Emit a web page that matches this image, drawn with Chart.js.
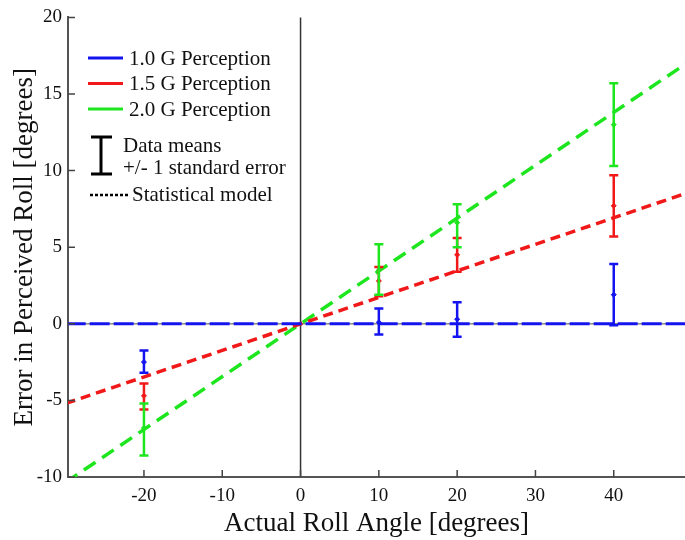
<!DOCTYPE html>
<html>
<head>
<meta charset="utf-8">
<script src="https://cdn.jsdelivr.net/npm/chart.js@4.4.1/dist/chart.umd.min.js"></script>
<style>
  html, body { margin: 0; padding: 0; background: #fff; overflow: hidden; }
  /* a few px wider than the window: the axis runs off the right edge like the reference */
  #wrap { width: 690px; height: 540px; }
</style>
</head>
<body>
<div id="wrap"><canvas id="rollChart"></canvas></div>
<script>
// values
const rollAngles = [-20, 10, 20, 40];

const mean10 = [-2.5, 0.1, 0.3, 1.9];
const lo10 = [-3.2, -0.7, -0.85, -0.1];
const hi10 = [-1.75, 1.0, 1.4, 3.9];

const mean15 = [-4.7, 2.8, 4.5, 7.7];
const lo15 = [-5.6, 1.8, 3.4, 5.7];
const hi15 = [-3.9, 3.7, 5.6, 9.7];

const mean20 = [-6.8, 3.5, 6.6, 13.0];
const lo20 = [-8.6, 1.9, 5.0, 10.3];
const hi20 = [-5.2, 5.2, 7.8, 15.7];

const modelX = [-30, 50];
const model10 = [0, 0];
const model15 = [-5.2, 8.65];
const model20 = [-10.35, 17.25];

const xTicks = [-20, -10, 0, 10, 20, 30, 40];
const yTicks = [-10, -5, 0, 5, 10, 15, 20];

const seriesLabels = ['1.0 G Perception', '1.5 G Perception', '2.0 G Perception'];
const seriesColors = ['#1414f0', '#f01818', '#1ee61e'];

const FONT = '"Liberation Serif", "Times New Roman", serif';

const pts = (xs, ys) => xs.map((x, i) => ({ x, y: ys[i] }));

const errorSets = [
  { mean: mean10, lo: lo10, hi: hi10, color: seriesColors[0] },
  { mean: mean15, lo: lo15, hi: hi15, color: seriesColors[1] },
  { mean: mean20, lo: lo20, hi: hi20, color: seriesColors[2] },
];

const axesExtras = {
  id: 'axesExtras',
  beforeDatasetsDraw(chart) {
    const { ctx, chartArea: a, scales: { x, y } } = chart;
    ctx.save();
    // zero lines
    ctx.lineWidth = 1.5;
    ctx.strokeStyle = '#333';
    const x0 = x.getPixelForValue(0);
    ctx.beginPath();
    ctx.moveTo(x0, a.top);
    ctx.lineTo(x0, a.bottom);
    ctx.stroke();
    ctx.strokeStyle = '#888';
    const y0 = y.getPixelForValue(0);
    ctx.beginPath();
    ctx.moveTo(a.left, y0);
    ctx.lineTo(a.right, y0);
    ctx.stroke();
    ctx.restore();
  },
  afterDatasetsDraw(chart) {
    const { ctx, chartArea: a, scales: { x, y } } = chart;
    ctx.save();
    // error bars
    ctx.lineWidth = 2.5;
    errorSets.forEach((s) => {
      ctx.strokeStyle = s.color;
      rollAngles.forEach((ang, i) => {
        const px = x.getPixelForValue(ang);
        const pl = y.getPixelForValue(s.lo[i]);
        const ph = y.getPixelForValue(s.hi[i]);
        ctx.beginPath();
        ctx.moveTo(px, pl); ctx.lineTo(px, ph);
        ctx.moveTo(px - 4.5, pl); ctx.lineTo(px + 4.5, pl);
        ctx.moveTo(px - 4.5, ph); ctx.lineTo(px + 4.5, ph);
        ctx.stroke();
      });
    });
    // inward ticks
    ctx.strokeStyle = '#444';
    ctx.lineWidth = 1.5;
    ctx.beginPath();
    xTicks.forEach((v) => {
      const px = x.getPixelForValue(v);
      ctx.moveTo(px, a.bottom); ctx.lineTo(px, a.bottom - 7);
    });
    yTicks.forEach((v) => {
      const py = y.getPixelForValue(v);
      ctx.moveTo(a.left, py); ctx.lineTo(a.left + 7, py);
    });
    ctx.stroke();
    ctx.restore();
  },
  afterDraw(chart) {
    const { ctx } = chart;
    ctx.save();
    ctx.font = '21px ' + FONT;
    ctx.fillStyle = '#111';
    ctx.textBaseline = 'middle';
    ctx.lineWidth = 3;
    seriesLabels.forEach((lab, i) => {
      const ly = 58 + i * 25.5;
      ctx.strokeStyle = seriesColors[i];
      ctx.beginPath();
      ctx.moveTo(88, ly); ctx.lineTo(123, ly);
      ctx.stroke();
      ctx.fillText(lab, 129, ly + 1);
    });
    // error bar sample
    ctx.strokeStyle = '#000';
    ctx.lineWidth = 3;
    ctx.beginPath();
    ctx.moveTo(101, 137); ctx.lineTo(101, 174);
    ctx.moveTo(91, 137); ctx.lineTo(112, 137);
    ctx.moveTo(91, 174); ctx.lineTo(112, 174);
    ctx.stroke();
    ctx.fillText('Data means', 123, 146);
    ctx.fillText('+/- 1 standard error', 123, 168);
    // model sample
    ctx.lineWidth = 2.5;
    ctx.setLineDash([3, 2]);
    ctx.beginPath();
    ctx.moveTo(90, 195); ctx.lineTo(129, 195);
    ctx.stroke();
    ctx.setLineDash([]);
    ctx.fillText('Statistical model', 132, 195);
    ctx.restore();
  },
};

new Chart(document.getElementById('rollChart'), {
  type: 'scatter',
  data: {
    datasets: [
      {
        label: 'model 2.0', data: pts(modelX, model20), showLine: true,
        borderColor: seriesColors[2], borderWidth: 3.5, borderDash: [14, 8],
        pointRadius: 0, order: 3,
      },
      {
        label: 'model 1.5', data: pts(modelX, model15), showLine: true,
        borderColor: seriesColors[1], borderWidth: 3.5, borderDash: [10, 6],
        pointRadius: 0, order: 2,
      },
      {
        label: 'model 1.0', data: pts(modelX, model10), showLine: true,
        borderColor: seriesColors[0], borderWidth: 3, borderDash: [20, 4],
        pointRadius: 0, order: 1,
      },
      ...errorSets.map((s, k) => ({
        label: seriesLabels[k], data: pts(rollAngles, s.mean),
        pointStyle: 'rectRot', pointRadius: 2.5,
        backgroundColor: s.color, borderColor: s.color, order: 0,
      })),
    ],
  },
  options: {
    responsive: true,
    maintainAspectRatio: false,
    animation: false,
    layout: { padding: { top: 12, right: 0, left: 0, bottom: 0 } },
    plugins: { legend: { display: false }, tooltip: { enabled: false } },
    scales: {
      x: {
        type: 'linear', min: -29.7, max: 49.1,
        afterBuildTicks: (s) => { s.ticks = xTicks.map((v) => ({ value: v })); },
        afterFit: (s) => { s.height = 63; },
        grid: { display: false, drawTicks: false },
        border: { color: '#555', width: 2 },
        ticks: { color: '#111', font: { family: FONT, size: 19 }, padding: 8, maxRotation: 0 },
        title: {
          display: true, text: 'Actual Roll Angle [degrees]', color: '#111',
          font: { family: FONT, size: 27 }, padding: { top: 0, bottom: 0 },
        },
      },
      y: {
        type: 'linear', min: -10, max: 20,
        afterBuildTicks: (s) => { s.ticks = yTicks.map((v) => ({ value: v })); },
        afterFit: (s) => { s.width = 68; },
        grid: { display: false, drawTicks: false },
        border: { color: '#555', width: 2 },
        ticks: { color: '#111', font: { family: FONT, size: 19 }, padding: 6 },
        title: {
          display: true, text: 'Error in Perceived Roll [degrees]', color: '#111',
          font: { family: FONT, size: 27 }, padding: { top: 9, bottom: 0 },
        },
      },
    },
  },
  plugins: [axesExtras],
});
</script>
</body>
</html>
